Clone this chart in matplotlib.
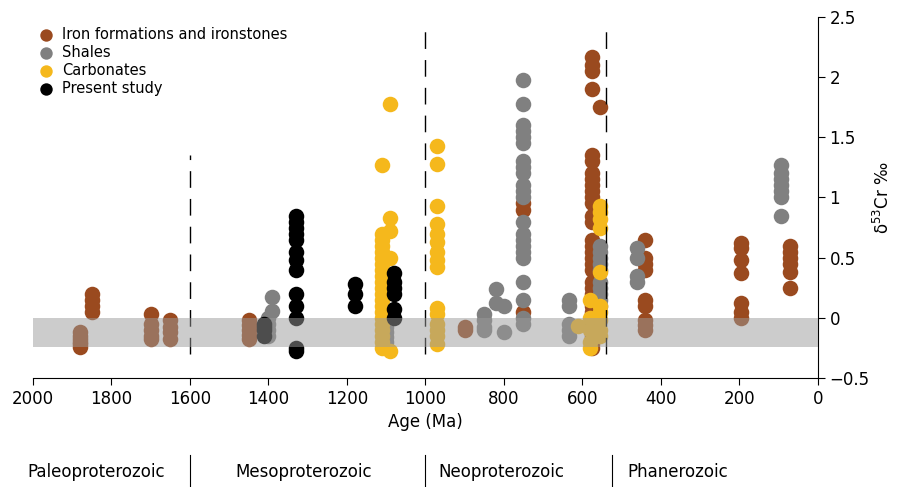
import numpy as np
import matplotlib.pyplot as plt

iron_age = [1880]*6 + [1850]*4 + [1700]*5 + [1650]*4 + [1450]*5 + [900]*2 + [750]*3 \
    + [575]*33 + [555] + [440]*9 + [195]*7 + [70]*6
iron_val = [-0.12, -0.15, -0.18, -0.2, -0.22, -0.24,
            0.05, 0.1, 0.15, 0.2,
            0.03, -0.05, -0.1, -0.15, -0.18,
            -0.02, -0.08, -0.12, -0.18,
            -0.02, -0.06, -0.1, -0.14, -0.18,
            -0.08, -0.1,
            0.95, 0.9, 0.05,
            2.17, 2.1, 2.05, 1.9, 1.35, 1.3, 1.2, 1.15, 1.1, 1.05, 1.0, 0.95, 0.85, 0.8,
            0.65, 0.6, 0.55, 0.5, 0.45, 0.4, 0.3, 0.25, 0.2, 0.15, 0.1, 0.05, 0.0,
            -0.05, -0.1, -0.15, -0.2, -0.25, -0.22,
            1.75,
            0.65, 0.5, 0.45, 0.4, 0.15, 0.1, -0.02, -0.06, -0.1,
            0.62, 0.58, 0.48, 0.37, 0.12, 0.05, 0.0,
            0.6, 0.55, 0.5, 0.45, 0.38, 0.25]

shale_age = [1400]*4 + [1390]*2 + [1100]*6 + [850]*4 + [820]*2 + [800]*2 + [750]*22 \
    + [635]*5 + [555]*10 + [460]*4 + [95]*7
shale_val = [0.0, -0.05, -0.1, -0.15, 0.17, 0.06,
             0.03, -0.02, -0.08, -0.12, -0.16, -0.2,
             0.03, -0.02, -0.08, -0.1, 0.24, 0.12, 0.1, -0.12,
             1.98, 1.78, 1.6, 1.55, 1.5, 1.45, 1.3, 1.25, 1.2, 1.1, 1.05, 1.0,
             0.8, 0.7, 0.65, 0.6, 0.55, 0.5, 0.3, 0.15, 0.0, -0.05,
             0.15, 0.1, -0.05, -0.1, -0.15,
             0.6, 0.55, 0.5, 0.45, 0.4, 0.3, 0.25, 0.2, 0.15, 0.1,
             0.58, 0.5, 0.35, 0.3,
             1.27, 1.2, 1.15, 1.1, 1.05, 1.0, 0.85]

carb_age = [1110]*21 + [1090]*6 + [970]*15 + [610] + [580]*5 + [555]*10
carb_val = [1.27, 0.7, 0.65, 0.6, 0.55, 0.5, 0.45, 0.4, 0.35, 0.3, 0.25, 0.2, 0.15,
            0.1, 0.05, 0.0, -0.05, -0.1, -0.15, -0.2, -0.25,
            1.78, 0.83, 0.72, 0.5, 0.3, -0.28,
            1.43, 1.28, 0.93, 0.78, 0.7, 0.63, 0.55, 0.48, 0.42, 0.08, 0.03, -0.05,
            -0.1, -0.15, -0.22,
            -0.07,
            0.15, 0.0, -0.1, -0.2, -0.25,
            0.93, 0.88, 0.82, 0.75, 0.38, 0.1, 0.05, -0.02, -0.1, -0.15]

ps_age = [1410]*4 + [1330]*13 + [1180]*3 + [1080]*6
ps_val = [-0.05, -0.1, -0.15, -0.08,
          0.85, 0.8, 0.75, 0.7, 0.65, 0.55, 0.48, 0.4, 0.2, 0.1, 0.0, -0.25, -0.28,
          0.28, 0.2, 0.1,
          0.37, 0.3, 0.25, 0.2, 0.07, 0.0]

eras = ['Paleoproterozoic', 'Mesoproterozoic', 'Neoproterozoic', 'Phanerozoic']
era_x = [0.031, 0.262, 0.488, 0.699]
era_sep = [0.2116, 0.473, 0.6815]

fig = plt.figure(figsize=(8.98, 4.87), dpi=100)
ax = fig.add_axes([0.0367, 0.224, 0.874, 0.741])

s = 125
ax.scatter(iron_age, iron_val, s=s, color='#9A4A1F', lw=0, label='Iron formations and ironstones', zorder=2)
ax.scatter(shale_age, shale_val, s=s, color='#808080', lw=0, label='Shales', zorder=2)
ax.scatter(carb_age, carb_val, s=s, color='#F5B81C', lw=0, label='Carbonates', zorder=2)
ax.scatter(ps_age, ps_val, s=s, color='black', lw=0, label='Present study', zorder=3)

# grey band drawn over the points, darkening them
ax.axhspan(-0.24, 0.0, color='#9a9a9a', alpha=0.5, lw=0, zorder=4)

ax.vlines(1600, -0.3, 1.35, color='black', lw=1, linestyles=(0, (12, 8)))
ax.vlines([1000, 541], -0.3, 2.4, color='black', lw=1, linestyles=(0, (12, 8)))

ax.set_xlim(2000, 0)
ax.set_ylim(-0.5, 2.5)
ax.set_xticks(np.arange(2000, -1, -200))
ax.set_yticks([-0.5, 0, 0.5, 1, 1.5, 2, 2.5])
ax.set_yticklabels(['−0.5', '0', '0.5', '1', '1.5', '2', '2.5'])
ax.spines['top'].set_visible(False)
ax.spines['left'].set_visible(False)
ax.yaxis.tick_right()
ax.yaxis.set_label_position('right')
ax.tick_params(labelsize=12, length=5)
ax.set_xlabel('Age (Ma)', fontsize=12)
ax.set_ylabel('δ$^{53}$Cr ‰', fontsize=12, labelpad=2)

ax.legend(loc='upper left', bbox_to_anchor=(-0.015, 1.0), frameon=False, fontsize=10.5,
          handletextpad=0.1, labelspacing=0.2, markerscale=0.8, borderaxespad=0.3)

for name, x in zip(eras, era_x):
    fig.text(x, 0.03, name, fontsize=12, va='center')
for x in era_sep:
    fig.add_artist(plt.Line2D([x, x], [0.0, 0.065], color='black', lw=0.8))

fig.savefig('out.png', dpi=100)
